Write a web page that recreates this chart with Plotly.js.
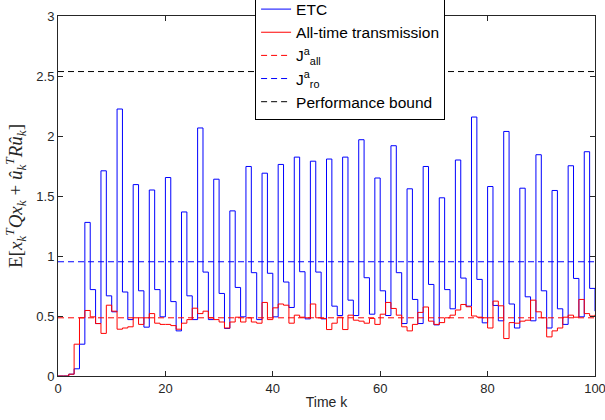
<!DOCTYPE html>
<html>
<head>
<meta charset="utf-8">
<script src="https://cdn.plot.ly/plotly-3.0.1.min.js"></script>
<style>html,body{margin:0;padding:0;background:#fff;}#chart{width:605px;height:420px;}</style>
</head>
<body>
<div id="chart"></div>
<script>
const timeK = [0,1,2,3,4,5,6,7,8,9,10,11,12,13,14,15,16,17,18,19,20,21,22,23,24,25,26,27,28,29,30,31,32,33,34,35,36,37,38,39,40,41,42,43,44,45,46,47,48,49,50,51,52,53,54,55,56,57,58,59,60,61,62,63,64,65,66,67,68,69,70,71,72,73,74,75,76,77,78,79,80,81,82,83,84,85,86,87,88,89,90,91,92,93,94,95,96,97,98,99,100];

const etc = [0,0,0.015,0.06,0.265,1.28,0.72,0.437,1.71,0.668,0.535,2.225,0.70,0.47,1.595,0.71,0.407,1.55,0.72,0.493,
  1.654,0.62,0.376,1.367,0.668,0.47,2.067,0.866,0.47,1.64,0.688,0.396,1.376,0.738,0.493,1.746,0.861,0.47,1.69,0.856,
  0.493,1.763,0.783,0.571,1.824,0.869,0.476,1.79,0.866,0.476,1.808,0.582,0.504,1.824,0.632,0.504,1.969,0.819,0.515,1.65,
  0.71,0.504,1.919,0.861,0.437,1.56,0.638,0.437,1.746,0.763,0.426,1.485,0.72,0.56,1.80,0.816,0.582,2.158,0.805,0.443,
  1.579,0.588,0.46,2.038,0.60,0.40,1.565,0.66,0.46,1.844,0.71,0.40,1.546,0.56,0.43,1.752,0.813,0.493,1.869,0.73,0.54];

const allTime = [0,0,0.015,0.265,0.485,0.546,0.493,0.437,0.355,0.59,0.54,0.39,0.40,0.41,0.485,0.43,0.485,0.52,0.44,0.43,
  0.43,0.42,0.39,0.44,0.47,0.565,0.52,0.54,0.485,0.47,0.45,0.40,0.45,0.49,0.45,0.485,0.45,0.44,0.613,0.47,
  0.568,0.60,0.59,0.44,0.507,0.49,0.485,0.60,0.485,0.48,0.387,0.44,0.49,0.387,0.507,0.465,0.457,0.44,0.48,0.43,
  0.515,0.613,0.563,0.507,0.41,0.376,0.43,0.53,0.575,0.457,0.43,0.445,0.485,0.507,0.55,0.596,0.577,0.50,0.49,0.485,
  0.40,0.624,0.585,0.312,0.445,0.44,0.457,0.465,0.632,0.535,0.485,0.326,0.376,0.40,0.49,0.507,0.49,0.638,0.52,0.50,0.51];

const lineX = [0, 100];
const jAll = [0.485, 0.485];
const jRo = [0.952, 0.952];
const perfBound = [2.537, 2.537];

const xTicks = [0,20,40,60,80,100];
const xTickLabels = ['0','20','40','60','80','100'];
const yTicks = [0,0.5,1,1.5,2,2.5,3];
const yTickLabels = ['0','0.5','1','1.5','2','2.5','3'];

const traces = [
  {x: timeK, y: etc, mode: 'lines', line: {shape: 'hv', color: '#0000ff', width: 1}, name: 'ETC'},
  {x: timeK, y: allTime, mode: 'lines', line: {shape: 'hv', color: '#ff0000', width: 1}, name: 'All-time transmission'},
  {x: lineX, y: jAll, mode: 'lines', line: {color: '#ff0000', width: 1, dash: '6px,4px'}, name: 'J<sup>a</sup><sub>all</sub>'},
  {x: lineX, y: jRo, mode: 'lines', line: {color: '#0000ff', width: 1, dash: '6px,4px'}, name: 'J<sup>a</sup><sub>ro</sub>'},
  {x: lineX, y: perfBound, mode: 'lines', line: {color: '#000000', width: 1, dash: '6px,4px'}, name: 'Performance bound'}
];

const axisCommon = {
  showline: true, linecolor: '#262626', linewidth: 1, mirror: 'ticks',
  ticks: 'inside', ticklen: 5, tickcolor: '#262626', tickwidth: 1,
  showgrid: false, zeroline: false, ticklabeloverflow: 'allow',
  tickfont: {family: 'Liberation Sans, Arial, sans-serif', size: 13, color: '#262626'}
};

const layout = {
  width: 605, height: 420,
  margin: {l: 58, r: 10, t: 16, b: 44, autoexpand: false},
  paper_bgcolor: '#ffffff', plot_bgcolor: '#ffffff',
  showlegend: true,
  legend: {
    x: 0.367, y: 1.068, xanchor: 'left', yanchor: 'top',
    bgcolor: '#ffffff', bordercolor: '#000000', borderwidth: 1,
    font: {family: 'Liberation Sans, Arial, sans-serif', size: 15.5, color: '#000000'},
    itemwidth: 30, tracegroupgap: 0
  },
  xaxis: Object.assign({}, axisCommon, {
    range: [0, 100], tickvals: xTicks, ticktext: xTickLabels,
    title: {text: 'Time k', font: {family: 'Liberation Sans, Arial, sans-serif', size: 14, color: '#262626'}, standoff: 2}
  }),
  yaxis: Object.assign({}, axisCommon, {
    range: [0, 3], tickvals: yTicks, ticktext: yTickLabels,
    title: {text: 'E[<i>x</i><sub><i>k</i></sub><sup><i>T</i></sup><i>Qx</i><sub><i>k</i></sub> + <i>û</i><sub><i>k</i></sub><sup><i>T</i></sup><i>Rû</i><sub><i>k</i></sub>]',
      font: {family: 'Liberation Serif, DejaVu Serif, serif', size: 19, color: '#262626'}, standoff: 8}
  })
};

Plotly.newPlot('chart', traces, layout, {displayModeBar: false, staticPlot: true});
</script>
</body>
</html>
